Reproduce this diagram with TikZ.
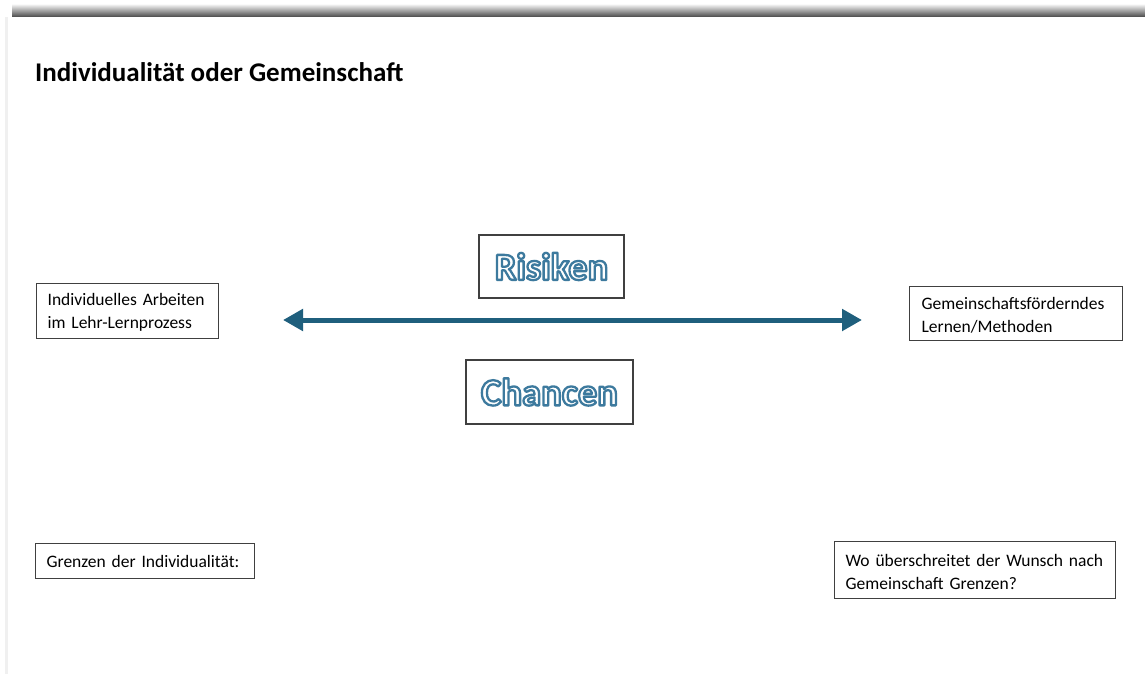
\documentclass[tikz,border=0pt]{standalone}
\usepackage{fontspec}
\setmainfont{Carlito}
\usetikzlibrary{arrows.meta}
\definecolor{boxgray}{RGB}{64,64,64}
\definecolor{arrowteal}{RGB}{31,95,125}
\newcommand{\bodyfnt}{\fontsize{17.5}{23}\selectfont}
\newcommand{\bigfnt}{\fontsize{38.5}{40}\selectfont\bfseries}
\newcommand{\hollowtext}[1]{\special{pdf:literal direct q}{\color{white}\special{pdf:literal direct 0.24 0.48 0.62 RG 2.3 w 1 j 2 Tr}#1}\special{pdf:literal direct Q}}
\tikzset{
  textbox/.style={draw=boxgray, line width=1.2pt, fill=white, inner xsep=11pt, inner ysep=0pt,
    align=left, font=\bodyfnt, anchor=north west},
  bigbox/.style={draw=boxgray, line width=1.2pt, fill=white, inner sep=0pt, font=\bigfnt},
  twoway/.style={arrowteal, line width=5pt, {Triangle[length=20pt,width=21pt]}-{Triangle[length=20pt,width=21pt]}}
}
\begin{document}
\begin{tikzpicture}[x=1pt,y=-1pt]
\fill[white] (0,0) rectangle (1145,674);
\useasboundingbox (0,0) rectangle (1145,674);
% slide shadow
\shade[top color=black!2, bottom color=black!72] (12,4) rectangle (1145,17);
\fill[black!6] (5,17) rectangle (8,674);
% title
\node[anchor=base west, inner sep=0pt, font=\fontsize{27}{30}\selectfont\bfseries] (title) at (35,82) {Individualität oder Gemeinschaft};
% boxes
\node[textbox, minimum width=182pt, minimum height=55pt, text width=160pt] (indiv) at (36,283)
  {\rule{0pt}{15pt}Individuelles Arbeiten\\im Lehr-Lernprozess};
\node[textbox, minimum width=213pt, minimum height=54pt, text width=189pt, inner xsep=12pt] (gemein) at (909,286)
  {\rule{0pt}{15pt}Gemeinschaftsförderndes\\Lernen/Methoden};
\node[textbox, minimum width=219pt, minimum height=35pt, text width=197pt, inner xsep=11pt] (grenzen) at (35,543)
  {Grenzen der Individualität:};
\node[textbox, minimum width=281pt, minimum height=57pt, text width=259pt, inner xsep=11pt] (wunsch) at (834,541)
  {\rule{0pt}{15pt}Wo überschreitet der Wunsch nach\\Gemeinschaft Grenzen?};
\node[bigbox, minimum width=145pt, minimum height=63pt] (risiken) at (551.5,266.5) {\hollowtext{Risiken}};
\node[bigbox, minimum width=167pt, minimum height=64pt] (chancen) at (549.5,392) {\hollowtext{Chancen}};
% arrow
\coordinate (aL) at (283,320);
\coordinate (aR) at (862,320);
\draw[twoway] (aL) -- (aR);
\end{tikzpicture}
\end{document}
